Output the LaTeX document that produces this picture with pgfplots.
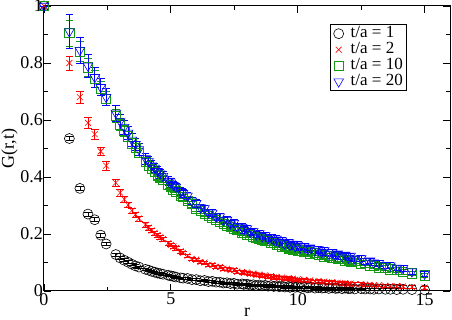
\documentclass[border=0pt]{standalone}
\usepackage{fontspec}
\setmainfont{Liberation Serif}
\usepackage{pgfplots}
\usepackage{pgfplotstable}
\pgfplotsset{compat=1.18}

\definecolor{gblack}{rgb}{0,0,0}
\definecolor{gred}{rgb}{1,0,0}
\definecolor{ggreen}{rgb}{0.08,0.6,0.08}
\definecolor{gblue}{rgb}{0,0,1}

% r, G(r,t) and error for t/a = 20 (B), 10 (G), 2 (R), 1 (K)
\pgfplotstableread{
r      B     eB    G     eG    R     eR    K     eK
0      1.000 0.000 1.000 0.000 1.000 0.000 1.000 0.000
1.000  0.910 0.060 0.905 0.045 0.800 0.025 0.535 0.008
1.414  0.845 0.045 0.840 0.035 0.680 0.020 0.360 0.007
1.732  0.790 0.040 0.785 0.030 0.590 0.020 0.270 0.007
2.000  0.750 0.035 0.745 0.030 0.550 0.018 0.250 0.007
2.236  0.715 0.030 0.710 0.025 0.490 0.015 0.196 0.006
2.449  0.680 0.030 0.675 0.025 0.440 0.015 0.165 0.006
2.828  0.625 0.028 0.615 0.024 0.380 0.012 0.128 0.005
3.000  0.595 0.026 0.585 0.022 0.345 0.012 0.116 0.005
3.162  0.575 0.025 0.562 0.020 0.322 0.010 0.108 0.005
3.317  0.555 0.024 0.543 0.019 0.302 0.010 0.101 0.005
3.464  0.530 0.022 0.518 0.018 0.282 0.009 0.094 0.004
3.606  0.515 0.021 0.502 0.017 0.268 0.009 0.088 0.004
3.742  0.497 0.020 0.484 0.016 0.254 0.008 0.084 0.004
4.000  0.465 0.019 0.452 0.015 0.232 0.008 0.076 0.004
4.123  0.455 0.018 0.440 0.015 0.222 0.008 0.073 0.004
4.243  0.440 0.018 0.428 0.014 0.212 0.007 0.069 0.004
4.359  0.432 0.017 0.418 0.014 0.204 0.007 0.066 0.004
4.472  0.420 0.017 0.406 0.013 0.196 0.007 0.063 0.004
4.583  0.412 0.016 0.398 0.013 0.189 0.007 0.061 0.004
4.690  0.403 0.016 0.389 0.013 0.182 0.006 0.059 0.004
4.899  0.386 0.015 0.372 0.012 0.168 0.006 0.055 0.003
5.000  0.380 0.015 0.365 0.012 0.162 0.006 0.053 0.003
5.099  0.371 0.015 0.357 0.012 0.156 0.006 0.051 0.003
5.196  0.365 0.014 0.350 0.011 0.150 0.006 0.049 0.003
5.385  0.350 0.014 0.336 0.011 0.140 0.006 0.046 0.003
5.477  0.343 0.014 0.330 0.011 0.134 0.006 0.045 0.003
5.657  0.334 0.013 0.316 0.010 0.124 0.005 0.044 0.003
5.831  0.316 0.013 0.305 0.010 0.113 0.005 0.040 0.003
6.000  0.308 0.013 0.288 0.010 0.110 0.005 0.040 0.003
6.164  0.293 0.012 0.281 0.010 0.102 0.005 0.036 0.003
6.325  0.290 0.012 0.272 0.010 0.100 0.005 0.037 0.003
6.481  0.276 0.012 0.265 0.009 0.092 0.005 0.033 0.003
6.633  0.274 0.012 0.256 0.009 0.091 0.005 0.034 0.003
6.782  0.261 0.012 0.250 0.009 0.085 0.005 0.031 0.003
6.928  0.261 0.012 0.243 0.009 0.084 0.005 0.031 0.003
7.071  0.248 0.012 0.237 0.009 0.078 0.005 0.028 0.003
7.211  0.249 0.012 0.230 0.009 0.078 0.005 0.029 0.003
7.348  0.236 0.012 0.226 0.009 0.073 0.005 0.026 0.003
7.483  0.238 0.012 0.219 0.009 0.073 0.005 0.027 0.003
7.616  0.226 0.012 0.215 0.009 0.068 0.005 0.024 0.003
7.810  0.224 0.012 0.206 0.009 0.067 0.005 0.025 0.003
7.874  0.214 0.012 0.204 0.009 0.063 0.005 0.023 0.003
8.000  0.219 0.011 0.199 0.009 0.065 0.005 0.024 0.003
8.124  0.206 0.011 0.196 0.009 0.060 0.005 0.021 0.003
8.246  0.209 0.011 0.190 0.009 0.061 0.005 0.022 0.003
8.367  0.198 0.011 0.188 0.009 0.056 0.005 0.019 0.003
8.485  0.202 0.011 0.182 0.009 0.058 0.005 0.021 0.003
8.602  0.191 0.011 0.181 0.009 0.053 0.005 0.018 0.003
8.718  0.195 0.011 0.175 0.009 0.055 0.005 0.020 0.003
8.832  0.184 0.011 0.175 0.009 0.050 0.005 0.017 0.003
8.944  0.189 0.011 0.168 0.009 0.052 0.005 0.019 0.003
9.055  0.178 0.011 0.169 0.009 0.047 0.005 0.016 0.003
9.165  0.183 0.011 0.163 0.009 0.049 0.005 0.018 0.003
9.274  0.172 0.011 0.163 0.009 0.045 0.005 0.015 0.003
9.381  0.177 0.011 0.157 0.009 0.047 0.005 0.017 0.003
9.487  0.166 0.011 0.158 0.009 0.043 0.005 0.014 0.003
9.644  0.170 0.011 0.150 0.009 0.045 0.005 0.016 0.003
9.695  0.161 0.011 0.152 0.009 0.041 0.005 0.013 0.003
9.798  0.165 0.011 0.145 0.009 0.043 0.005 0.015 0.003
9.899  0.156 0.011 0.148 0.009 0.039 0.005 0.013 0.003
10.000 0.162 0.011 0.141 0.009 0.041 0.005 0.015 0.003
10.100 0.152 0.010 0.143 0.008 0.037 0.005 0.012 0.003
10.247 0.157 0.010 0.137 0.008 0.039 0.005 0.014 0.003
10.392 0.146 0.010 0.138 0.008 0.035 0.005 0.011 0.003
10.488 0.152 0.010 0.132 0.008 0.037 0.005 0.013 0.003
10.677 0.141 0.010 0.133 0.008 0.033 0.005 0.010 0.003
10.817 0.146 0.010 0.127 0.008 0.035 0.005 0.012 0.003
10.954 0.135 0.010 0.128 0.008 0.031 0.005 0.010 0.003
11.045 0.142 0.010 0.122 0.008 0.033 0.005 0.011 0.003
11.225 0.130 0.010 0.123 0.008 0.029 0.005 0.009 0.003
11.358 0.136 0.010 0.117 0.008 0.031 0.005 0.011 0.003
11.489 0.125 0.010 0.118 0.008 0.028 0.005 0.009 0.003
11.576 0.131 0.010 0.113 0.008 0.029 0.005 0.010 0.003
11.747 0.121 0.010 0.113 0.008 0.026 0.005 0.008 0.003
11.874 0.127 0.010 0.108 0.008 0.028 0.005 0.010 0.003
12.000 0.116 0.010 0.109 0.008 0.025 0.005 0.008 0.003
12.083 0.123 0.010 0.104 0.008 0.026 0.005 0.009 0.003
12.247 0.113 0.010 0.105 0.008 0.024 0.005 0.007 0.003
12.500 0.114 0.010 0.097 0.008 0.024 0.005 0.008 0.003
12.650 0.105 0.010 0.098 0.008 0.022 0.005 0.007 0.003
12.850 0.106 0.010 0.090 0.008 0.022 0.005 0.007 0.003
13.000 0.099 0.010 0.089 0.008 0.020 0.005 0.006 0.003
13.200 0.098 0.010 0.083 0.008 0.020 0.005 0.007 0.003
13.450 0.090 0.010 0.082 0.008 0.018 0.005 0.006 0.003
13.650 0.089 0.010 0.076 0.008 0.018 0.005 0.006 0.003
13.900 0.081 0.010 0.074 0.008 0.017 0.005 0.005 0.003
14.150 0.080 0.010 0.068 0.008 0.016 0.005 0.006 0.003
14.500 0.068 0.010 0.062 0.008 0.014 0.005 0.005 0.003
15.000 0.060 0.010 0.055 0.008 0.012 0.005 0.004 0.003
}\gdata

\begin{document}
\begin{tikzpicture}
  \begin{axis}[
      scale only axis,
      width=406pt, height=285pt,
      xmin=0, xmax=16, ymin=0, ymax=1,
      xtick={0,5,10,15}, minor x tick num=1,
      ytick={0,0.2,0.4,0.6,0.8,1}, minor y tick num=1,
      tick align=inside,
      major tick length=7pt, minor tick length=4pt,
      every tick/.style={black, line width=0.9pt},
      axis line style={line width=1pt},
      /pgf/number format/assume math mode=true,
      tick label style={font=\fontsize{18}{18}\selectfont},
      xticklabel style={inner sep=1pt, yshift=-1pt},
      yticklabel style={inner sep=1pt},
      label style={font=\fontsize{18}{18}\selectfont},
      xlabel={r}, ylabel={G(r,t)},
      xlabel style={yshift=2pt},
      ylabel style={yshift=-2pt},
      clip=false,
      every axis plot/.append style={only marks, line width=0.6pt},
      error bars/error bar style={line width=0.6pt},
      error bars/error mark options={line width=0.6pt, mark size=3.8pt, rotate=90},
      legend style={at={(0.705,0.936)}, anchor=north west,
                    draw=black, line width=0.9pt, fill=white,
                    font=\fontsize{17}{17}\selectfont,
                    inner xsep=3pt, inner ysep=1pt, row sep=0pt,
                    nodes={inner sep=1pt, text height=11pt, text depth=3pt}},
      legend cell align=left,
    ]
    \addplot[gblack, mark=o, mark size=5pt,
      error bars/.cd, y dir=both, y explicit]
      table[x=r, y=K, y error=eK] {\gdata};
    \addlegendentry{\hspace{6pt}t/a = 1}
    \addplot[gred, mark=x, mark size=4.2pt,
      error bars/.cd, y dir=both, y explicit]
      table[x=r, y=R, y error=eR] {\gdata};
    \addlegendentry{\hspace{6pt}t/a = 2}
    \addplot[ggreen, mark=square, mark size=4.6pt,
      error bars/.cd, y dir=both, y explicit]
      table[x=r, y=G, y error=eG] {\gdata};
    \addlegendentry{\hspace{6pt}t/a = 10}
    \addplot[gblue, mark=triangle, mark size=5.5pt, mark options={rotate=180},
      error bars/.cd, y dir=both, y explicit]
      table[x=r, y=B, y error=eB] {\gdata};
    \addlegendentry{\hspace{6pt}t/a = 20}
  \end{axis}
  \pgfresetboundingbox
  \path (-44pt,-29pt) rectangle (408pt,291pt);
\end{tikzpicture}
\end{document}
